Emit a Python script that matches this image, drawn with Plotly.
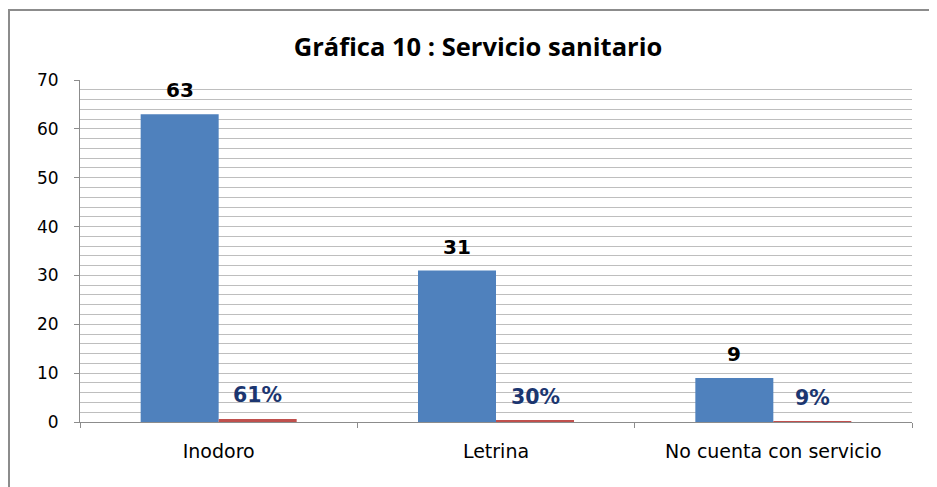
import plotly.graph_objects as go

# data
categorias = ["Inodoro", "Letrina", "No cuenta con servicio"]
frecuencia = [63, 31, 9]
porcentaje = [0.61, 0.30, 0.09]

titulo = "Gráfica 10 : Servicio sanitario"
y_ticks = [0, 10, 20, 30, 40, 50, 60, 70]

AZUL = "#4F81BD"
ROJO = "#C0504D"
GRIS = "#8C8C8C"

# page body adds an 8px offset, so the figure is 8px smaller each way
W, H = 929, 479
ML, MR, MT, MB = 72, 25, 72, 65
PW, PH = W - ML - MR, H - MT - MB

fig = go.Figure()
fig.add_trace(go.Bar(x=categorias, y=frecuencia, marker_color=AZUL,
                     marker_line_width=0, name="Frecuencia"))
fig.add_trace(go.Bar(x=categorias, y=porcentaje, marker_color=ROJO,
                     marker_line_width=0, name="Porcentaje"))

# value labels above each bar
anotaciones = []
for cat, val in zip(categorias, frecuencia):
    anotaciones.append(dict(
        x=cat, y=val, xref="x", yref="y", text=str(val), showarrow=False,
        xshift=-39, yshift=24, yanchor="middle",
        font=dict(family="DejaVu Sans", size=20, color="black", weight="bold")))
for cat, val in zip(categorias, porcentaje):
    anotaciones.append(dict(
        x=cat, y=val, xref="x", yref="y", text=f"{round(val * 100)}%",
        showarrow=False, xshift=39, yshift=24, yanchor="middle",
        font=dict(family="DejaVu Sans", size=20.5, color="#1B3670", weight="bold")))

fig.update_layout(
    width=W, height=H,
    margin=dict(l=ML, r=MR, t=MT, b=MB),
    paper_bgcolor="white", plot_bgcolor="white",
    showlegend=False,
    barmode="group", bargap=0.4375, bargroupgap=0,
    title=dict(text=titulo, x=(478 - 8) / W, xref="container", xanchor="center",
               y=1 - (47 - 8) / H, yref="container", yanchor="middle",
               font=dict(family="Open Sans", size=25.5, color="black", weight="bold")),
    annotations=anotaciones,
    shapes=[dict(type="rect", xref="paper", yref="paper",
                 x0=(1 - ML) / PW, x1=1.2, y0=-0.5, y1=1 + (MT - 2) / PH,
                 line=dict(color=GRIS, width=2), layer="below")],
)
fig.update_xaxes(
    type="category", showline=True, linecolor=GRIS, linewidth=1,
    ticks="outside", tickson="boundaries", ticklen=5, tickcolor=GRIS,
    ticklabelstandoff=12, showgrid=False,
    tickfont=dict(family="DejaVu Sans", size=19, color="black"),
)
fig.update_yaxes(
    range=[0, 70], tickvals=y_ticks, showline=True, linecolor=GRIS,
    linewidth=1, ticks="outside", ticklen=5, tickcolor=GRIS,
    ticklabelstandoff=12, showgrid=True, gridcolor="#BEBEBE", gridwidth=1,
    minor=dict(dtick=2, showgrid=True, gridcolor="#BEBEBE", gridwidth=1),
    zeroline=False,
    tickfont=dict(family="DejaVu Sans", size=17, color="black"),
)

fig.write_html("out.html")
